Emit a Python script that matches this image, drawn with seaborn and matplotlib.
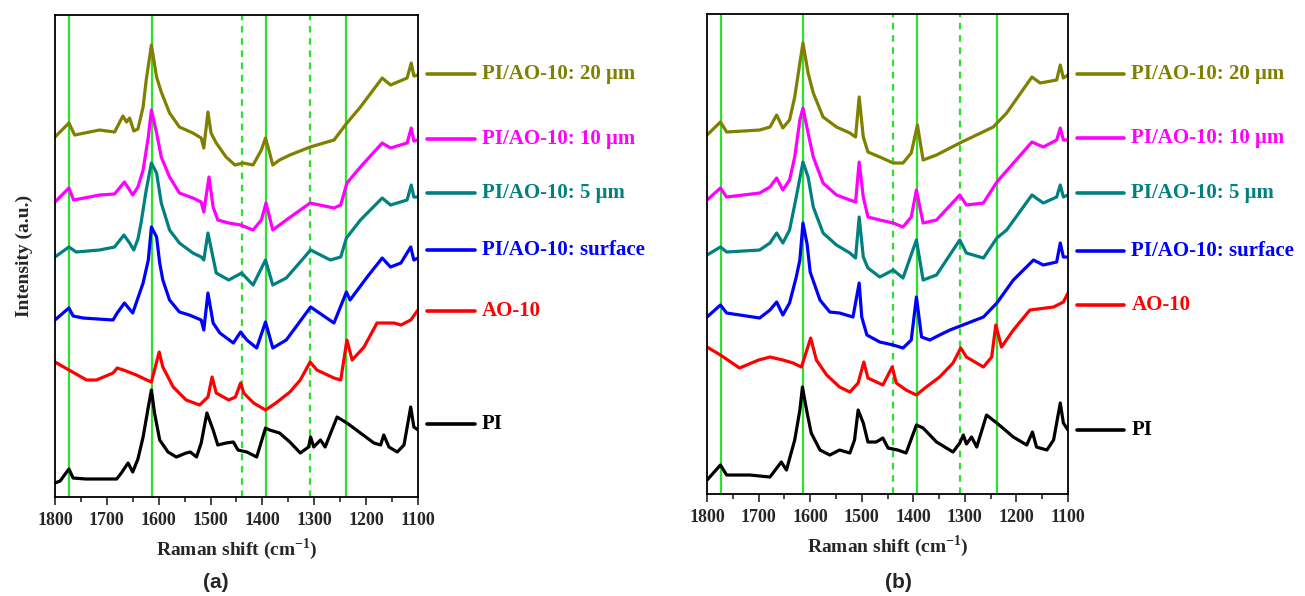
import pandas as pd
import seaborn as sns
import matplotlib.pyplot as plt
from matplotlib.ticker import MultipleLocator

# Raman spectra (shift in cm-1, intensity in a.u.)
samples = ['PI', 'AO-10', 'PI/AO-10: surface', 'PI/AO-10: 5 μm',
           'PI/AO-10: 10 μm', 'PI/AO-10: 20 μm']
colors = ['black', '#FF0000', '#0000FF', '#008080', '#FF00FF', '#808000']

# ---- panel (a) ----
a_pi_x = [1800, 1790, 1773, 1765, 1740, 1700, 1681, 1672, 1659, 1650, 1640, 1630, 1620, 1614, 1608, 1598,
          1582, 1566, 1547, 1539, 1527, 1518, 1507, 1495, 1486, 1470, 1456, 1447, 1430, 1411, 1394, 1386,
          1367, 1347, 1327, 1311, 1307, 1301, 1288, 1279, 1256, 1237, 1211, 1185, 1172, 1166, 1156, 1140,
          1127, 1114, 1108, 1100]
a_pi_y = [14, 16, 28, 19, 18, 18, 18, 24, 34, 25, 38, 60, 90, 107, 84, 57,
          45, 40, 44, 45, 40, 54, 84, 67, 52, 54, 55, 47, 45, 40, 69, 67,
          64, 55, 44, 50, 60, 50, 57, 50, 80, 74, 64, 54, 52, 62, 50, 45,
          52, 90, 70, 67]
a_ao_x = [1800, 1773, 1739, 1720, 1688, 1680, 1668, 1643, 1623, 1614, 1599, 1592, 1572, 1547, 1521, 1505,
          1497, 1489, 1465, 1452, 1442, 1436, 1417, 1394, 1374, 1347, 1327, 1308, 1295, 1262, 1249, 1237,
          1227, 1204, 1179, 1146, 1133, 1114, 1100]
a_ao_y = [135, 127, 117, 117, 124, 129, 127, 122, 117, 115, 145, 130, 110, 97, 92, 100,
          120, 104, 97, 100, 114, 104, 94, 87, 94, 105, 117, 135, 127, 119, 117, 157,
          137, 150, 174, 174, 172, 177, 187]
a_sf_x = [1800, 1773, 1765, 1746, 1688, 1680, 1666, 1650, 1630, 1620, 1614, 1604, 1598, 1592, 1579, 1560,
          1541, 1518, 1513, 1505, 1495, 1482, 1456, 1442, 1430, 1411, 1394, 1380, 1354, 1307, 1262, 1238,
          1231, 1198, 1169, 1153, 1133, 1114, 1108, 1100]
a_sf_y = [177, 189, 181, 179, 177, 184, 194, 184, 214, 237, 270, 260, 234, 217, 197, 185,
          182, 177, 167, 204, 174, 164, 154, 165, 157, 149, 175, 149, 157, 190, 174, 205,
          197, 220, 239, 230, 234, 250, 237, 239]
a_5_x = [1800, 1773, 1759, 1714, 1685, 1667, 1656, 1648, 1640, 1634, 1624, 1614, 1604, 1595, 1579, 1560,
         1534, 1518, 1513, 1505, 1489, 1465, 1440, 1418, 1394, 1380, 1354, 1307, 1269, 1249, 1238, 1211,
         1169, 1153, 1121, 1113, 1108, 1100]
a_5_y = [240, 250, 245, 247, 250, 262, 254, 247, 258, 274, 307, 334, 324, 294, 267, 254,
         244, 240, 237, 264, 224, 217, 224, 212, 237, 212, 219, 247, 237, 240, 259, 277,
         299, 292, 297, 312, 300, 300]
a_10_x = [1800, 1773, 1764, 1714, 1685, 1666, 1656, 1650, 1640, 1630, 1620, 1614, 1604, 1595, 1579, 1560,
          1534, 1518, 1513, 1503, 1495, 1486, 1465, 1442, 1418, 1402, 1393, 1380, 1354, 1308, 1262, 1249,
          1237, 1211, 1169, 1153, 1121, 1113, 1108, 1100]
a_10_y = [295, 309, 297, 302, 303, 315, 307, 302, 310, 327, 360, 387, 364, 340, 320, 304,
          299, 295, 285, 320, 290, 277, 274, 272, 267, 277, 294, 267, 277, 294, 289, 292,
          314, 330, 354, 349, 354, 369, 356, 357]
a_20_x = [1800, 1773, 1762, 1714, 1685, 1669, 1662, 1656, 1648, 1640, 1630, 1624, 1614, 1604, 1595, 1579,
          1560, 1534, 1518, 1513, 1505, 1499, 1489, 1470, 1453, 1437, 1418, 1402, 1394, 1386, 1380, 1367,
          1347, 1308, 1262, 1237, 1211, 1169, 1153, 1121, 1113, 1108, 1100]
a_20_y = [360, 374, 362, 367, 365, 381, 375, 379, 366, 368, 390, 417, 452, 420, 405, 384,
          370, 364, 359, 349, 385, 364, 354, 340, 332, 334, 332, 347, 359, 344, 332, 337,
          342, 350, 357, 374, 390, 419, 412, 419, 434, 421, 422]

# ---- panel (b) ----
b_pi_x = [1800, 1774, 1762, 1717, 1678, 1656, 1646, 1630, 1620, 1615, 1607, 1598, 1581, 1562, 1543, 1523,
          1514, 1507, 1497, 1488, 1472, 1459, 1449, 1430, 1414, 1394, 1381, 1355, 1323, 1310, 1303, 1297,
          1287, 1277, 1258, 1238, 1206, 1180, 1169, 1161, 1141, 1128, 1115, 1109, 1100]
b_pi_y = [14, 29, 19, 19, 17, 32, 24, 54, 84, 107, 84, 61, 44, 39, 44, 41,
          54, 84, 71, 52, 52, 56, 46, 44, 41, 69, 66, 52, 42, 51, 59, 50,
          57, 47, 79, 71, 57, 49, 62, 47, 44, 54, 91, 71, 64]
b_ao_x = [1800, 1774, 1737, 1700, 1678, 1653, 1633, 1617, 1599, 1588, 1568, 1543, 1523, 1507, 1496, 1488,
          1459, 1441, 1433, 1414, 1394, 1375, 1349, 1323, 1308, 1297, 1264, 1248, 1240, 1229, 1206, 1174,
          1128, 1109, 1100]
b_ao_y = [147, 139, 126, 134, 137, 134, 131, 127, 156, 134, 119, 107, 102, 111, 132, 116,
          109, 127, 111, 104, 99, 107, 117, 131, 146, 137, 127, 137, 169, 147, 164, 184,
          187, 192, 201]
b_sf_x = [1800, 1774, 1762, 1698, 1678, 1665, 1653, 1640, 1627, 1620, 1614, 1606, 1600, 1581, 1562, 1543,
          1517, 1505, 1500, 1490, 1465, 1439, 1420, 1404, 1394, 1384, 1368, 1349, 1329, 1264, 1238, 1206,
          1167, 1148, 1122, 1115, 1109, 1100]
b_sf_y = [177, 189, 181, 176, 184, 192, 179, 191, 217, 234, 271, 250, 222, 194, 182, 181,
          177, 211, 177, 159, 152, 149, 146, 154, 197, 157, 154, 159, 164, 177, 191, 214,
          234, 229, 232, 251, 237, 237]
b_5_x = [1800, 1774, 1762, 1698, 1678, 1665, 1653, 1640, 1627, 1614, 1604, 1594, 1575, 1549, 1523, 1512,
         1505, 1497, 1488, 1465, 1439, 1420, 1394, 1381, 1355, 1310, 1297, 1264, 1238, 1219, 1170, 1148,
         1122, 1115, 1109, 1100]
b_5_y = [239, 247, 242, 244, 251, 261, 251, 264, 297, 332, 317, 287, 261, 249, 241, 236,
         277, 237, 226, 217, 224, 216, 254, 214, 219, 254, 241, 236, 256, 264, 299, 291,
         297, 309, 297, 299]
b_10_x = [1800, 1774, 1762, 1698, 1678, 1665, 1653, 1640, 1630, 1620, 1614, 1604, 1594, 1575, 1549, 1523,
          1512, 1505, 1497, 1488, 1465, 1439, 1420, 1404, 1394, 1381, 1355, 1310, 1297, 1264, 1238, 1170,
          1148, 1122, 1115, 1109, 1100]
b_10_y = [294, 306, 297, 301, 307, 316, 304, 314, 337, 374, 386, 361, 337, 311, 299, 294,
          292, 332, 297, 277, 274, 271, 267, 277, 304, 271, 274, 299, 289, 291, 312, 352,
          347, 354, 366, 354, 354]
b_20_x = [1800, 1774, 1762, 1698, 1678, 1665, 1653, 1640, 1630, 1620, 1614, 1604, 1594, 1575, 1549, 1523,
          1512, 1505, 1497, 1488, 1465, 1439, 1420, 1404, 1392, 1381, 1355, 1310, 1245, 1219, 1170, 1154,
          1122, 1115, 1109, 1100]
b_20_y = [359, 372, 362, 364, 367, 379, 366, 374, 397, 431, 451, 421, 401, 377, 367, 361,
          357, 397, 357, 342, 337, 331, 331, 341, 369, 334, 339, 351, 367, 381, 417, 411,
          414, 429, 416, 419]

# reference band positions (solid / dashed)
solid_bands = [1773, 1613, 1393, 1238]
dashed_bands = [1440, 1309]

# label heights at the right side of each panel
a_label_y = [73, 186, 247, 304, 358, 423]
b_label_y = [64, 189, 243, 301, 356, 420]


def make_frame(xs, ys):
    rows = []
    for name, x, y in zip(samples, xs, ys):
        for xi, yi in zip(x, y):
            rows.append({'shift': xi, 'intensity': yi, 'sample': name})
    return pd.DataFrame(rows)


df_a = make_frame([a_pi_x, a_ao_x, a_sf_x, a_5_x, a_10_x, a_20_x],
                  [a_pi_y, a_ao_y, a_sf_y, a_5_y, a_10_y, a_20_y])
df_b = make_frame([b_pi_x, b_ao_x, b_sf_x, b_5_x, b_10_x, b_20_x],
                  [b_pi_y, b_ao_y, b_sf_y, b_5_y, b_10_y, b_20_y])

sns.set_style('ticks')
plt.rcParams['font.family'] = ['Liberation Serif', 'DejaVu Serif']
plt.rcParams['font.weight'] = 'bold'
plt.rcParams['mathtext.fontset'] = 'custom'
plt.rcParams['mathtext.rm'] = 'Liberation Serif:bold'
plt.rcParams['mathtext.bf'] = 'Liberation Serif:bold'

fig = plt.figure(figsize=(13.05, 5.96), dpi=100)
ax_a = fig.add_axes([0.0421, 0.1661, 0.2782, 0.8087])
ax_b = fig.add_axes([0.5418, 0.1711, 0.2766, 0.8054])

palette = dict(zip(samples, colors))

for ax, df, top, label_y in [(ax_a, df_a, 482, a_label_y), (ax_b, df_b, 480, b_label_y)]:
    for b in solid_bands:
        ax.axvline(b, color='#2EE02E', lw=1.6, zorder=0)
    for b in dashed_bands:
        ax.axvline(b, color='#2EE02E', lw=1.6, ls=(0, (3, 2.5)), zorder=0)

    sns.lineplot(data=df, x='shift', y='intensity', hue='sample', palette=palette,
                 estimator=None, sort=False, lw=2.3, legend=False, ax=ax)

    ax.set_xlim(1800, 1100)
    ax.set_ylim(0, top)
    ax.xaxis.set_major_locator(MultipleLocator(100))
    ax.xaxis.set_minor_locator(MultipleLocator(50))
    ax.tick_params(axis='x', which='major', direction='out', length=6, width=1.2,
                   labelsize=13, pad=5)
    ax.tick_params(axis='x', which='minor', direction='out', length=3.5, width=1.2)
    ax.set_yticks([])
    for s in ax.spines.values():
        s.set_visible(True)
        s.set_linewidth(1.3)
        s.set_color('black')
    ax.set_xlabel('Raman shift (cm$^{-1}$)', fontsize=14, fontweight='bold', labelpad=5)
    ax.set_ylabel('')

    # labels with short line samples, as in the original
    for name, c, yl in zip(samples, colors, label_y):
        ax.plot([1083, 991], [yl, yl], color=c, lw=2.6, clip_on=False)
        ax.text(977, yl, name, color=c, fontsize=15, fontweight='bold',
                va='center', ha='left', clip_on=False)

ax_a.set_ylabel('Intensity (a.u.)', fontsize=14, fontweight='bold', labelpad=16)

fig.text(216 / 1305, 1 - 583 / 596, '(a)', family='Liberation Sans', fontweight='bold',
         fontsize=15, ha='center', va='center')
fig.text(898 / 1305, 1 - 583 / 596, '(b)', family='Liberation Sans', fontweight='bold',
         fontsize=15, ha='center', va='center')

plt.savefig('out.png', dpi=100)
plt.close()
